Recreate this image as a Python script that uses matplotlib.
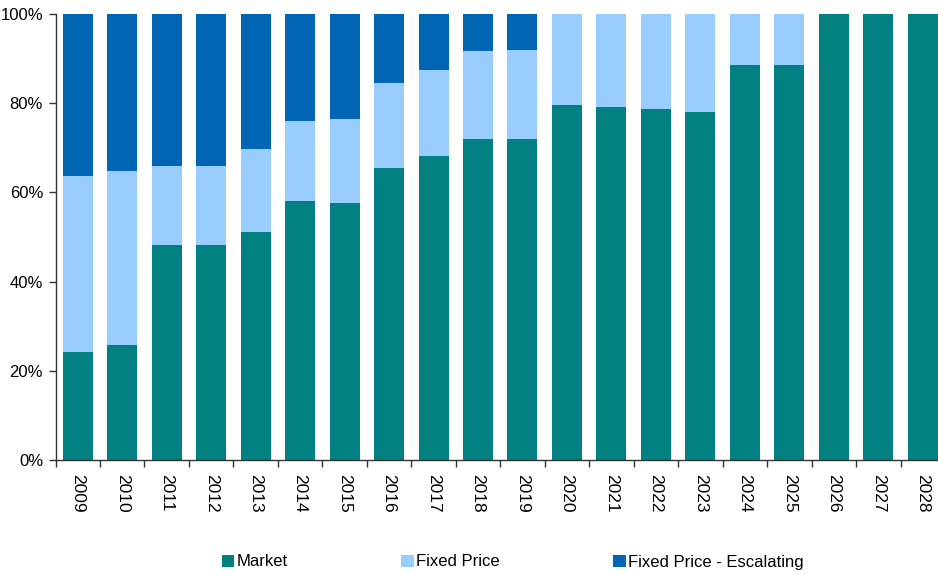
import matplotlib.pyplot as plt
import numpy as np
from matplotlib.ticker import FuncFormatter

plt.rcParams['font.family'] = ['Liberation Sans', 'DejaVu Sans']

years = [str(y) for y in range(2009, 2029)]
# shares in %
market = [24.3, 25.8, 48.2, 48.2, 51.1, 58.1, 57.6, 65.5, 68.2, 72.0,
          72.0, 79.6, 79.1, 78.7, 78.0, 88.6, 88.6, 100, 100, 100]
fixed_price = [39.4, 39.0, 17.8, 17.8, 18.6, 17.9, 18.9, 19.0, 19.2, 19.7,
               19.9, 20.4, 20.9, 21.3, 22.0, 11.4, 11.4, 0, 0, 0]
escalating = [36.3, 35.2, 34.0, 34.0, 30.3, 24.0, 23.5, 15.5, 12.6, 8.3,
              8.1, 0, 0, 0, 0, 0, 0, 0, 0, 0]

c_market = '#008080'
c_fixed = '#99CCFF'
c_esc = '#0066B3'

fig = plt.figure(figsize=(9.38, 5.75), dpi=100)
ax = fig.add_axes([55.5 / 938, 115 / 575, 889.5 / 938, 446 / 575])

x = np.arange(len(years))
w = 0.674
mk = np.array(market)
fp = np.array(fixed_price)
es = np.array(escalating)

ax.bar(x, mk, width=w, color=c_market, label='Market')
ax.bar(x, fp, width=w, bottom=mk, color=c_fixed, label='Fixed Price')
ax.bar(x, es, width=w, bottom=mk + fp, color=c_esc, label='Fixed Price - Escalating')

ax.set_xlim(-0.5, len(years) - 0.5)
ax.set_ylim(0, 100)
ax.set_yticks(np.arange(0, 101, 20))
ax.yaxis.set_major_formatter(FuncFormatter(lambda v, p: f'{v:.0f}%'))

# ticks between categories, labels at the centres
ax.set_xticks(np.arange(-0.5, len(years) - 0.4, 1))
ax.set_xticklabels([])
ax.set_xticks(x, minor=True)
ax.set_xticklabels(years, minor=True, rotation=270, fontsize=12.5)
ax.tick_params(axis='x', which='minor', length=0, pad=10)
ax.tick_params(axis='x', which='major', length=5, width=1, color='#333333')
ax.tick_params(axis='y', length=5, width=1, color='#333333', labelsize=12, pad=4)

for s in ['top', 'right']:
    ax.spines[s].set_visible(False)
for s in ['left', 'bottom']:
    ax.spines[s].set_color('#333333')
    ax.spines[s].set_linewidth(1)

fig.legend(loc='center', bbox_to_anchor=(513 / 938, 1 - 562 / 575), ncol=3,
           frameon=False, fontsize=12, handlelength=0.75, handleheight=0.75,
           handletextpad=0.15, columnspacing=6.8)

plt.savefig('out.png', dpi=100)
